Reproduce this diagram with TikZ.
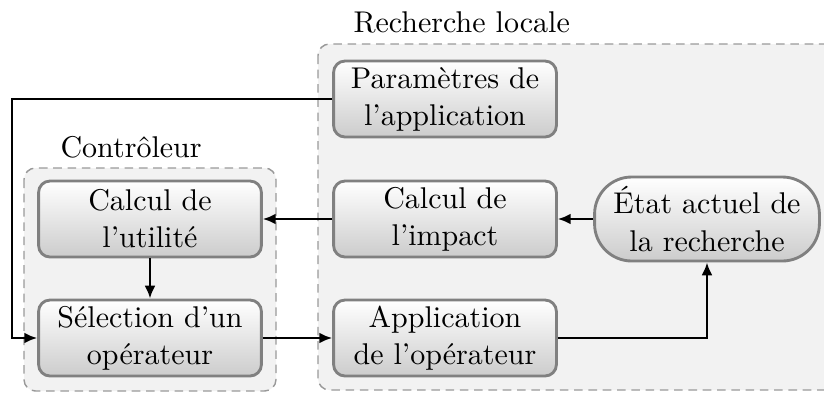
\documentclass[tikz,border=0pt]{standalone}
\usetikzlibrary{arrows.meta,calc}
\begin{document}
\begin{tikzpicture}[x=0.35pt,y=-0.35pt,
  every node/.style={font=\fontsize{10.5}{13}\selectfont},
  grp/.style={draw=black!40, dash pattern=on 3pt off 2pt, fill=black!5, rounded corners=4pt, line width=0.5pt},
  grplabel/.style={inner sep=0pt},
  proc/.style={draw=black!50, line width=1pt, rounded corners=4pt, top color=white, bottom color=black!20,
    minimum width=78pt, minimum height=26.6pt, align=center, inner sep=2pt},
  state/.style={proc, rounded corners=13pt, minimum width=78.7pt, minimum height=29.4pt},
  link/.style={line width=0.8pt, -{Latex[length=4.5pt,width=3.8pt]}}
]
\useasboundingbox (0,0) rectangle (824,394);
% group frames
\draw[grp] (318,44) rectangle (840,390);
\draw[grp] (24,168) rectangle (276,391);
\node[grplabel, anchor=base west] (lblrl) at (353,32) {Recherche locale};
\node[grplabel, anchor=base west] (lblctl) at (60,157) {Contrôleur};
% process boxes
\node[proc] (util) at (150,219) {Calcul de\\l'utilité};
\node[proc] (sel) at (150,338) {Sélection d'un\\opérateur};
\node[proc] (param) at (445,99) {Paramètres de\\l'application};
\node[proc] (impact) at (445,219) {Calcul de\\l'impact};
\node[proc] (appl) at (445,338) {Application\\de l'opérateur};
\node[state] (etat) at (707,219) {État actuel de\\la recherche};
% connectors
\coordinate (lt) at (12,99);
\coordinate (lb) at (12,338);
\draw[link] (param.west) -- (lt) -- (lb) -- (sel.west);
\draw[link] (util.south) -- (sel.north);
\draw[link] (impact.west) -- (util.east);
\draw[link] (etat.west) -- (impact.east);
\draw[link] (sel.east) -- (appl.west);
\draw[link] (appl.east) -| (etat.south);
\end{tikzpicture}
\end{document}
